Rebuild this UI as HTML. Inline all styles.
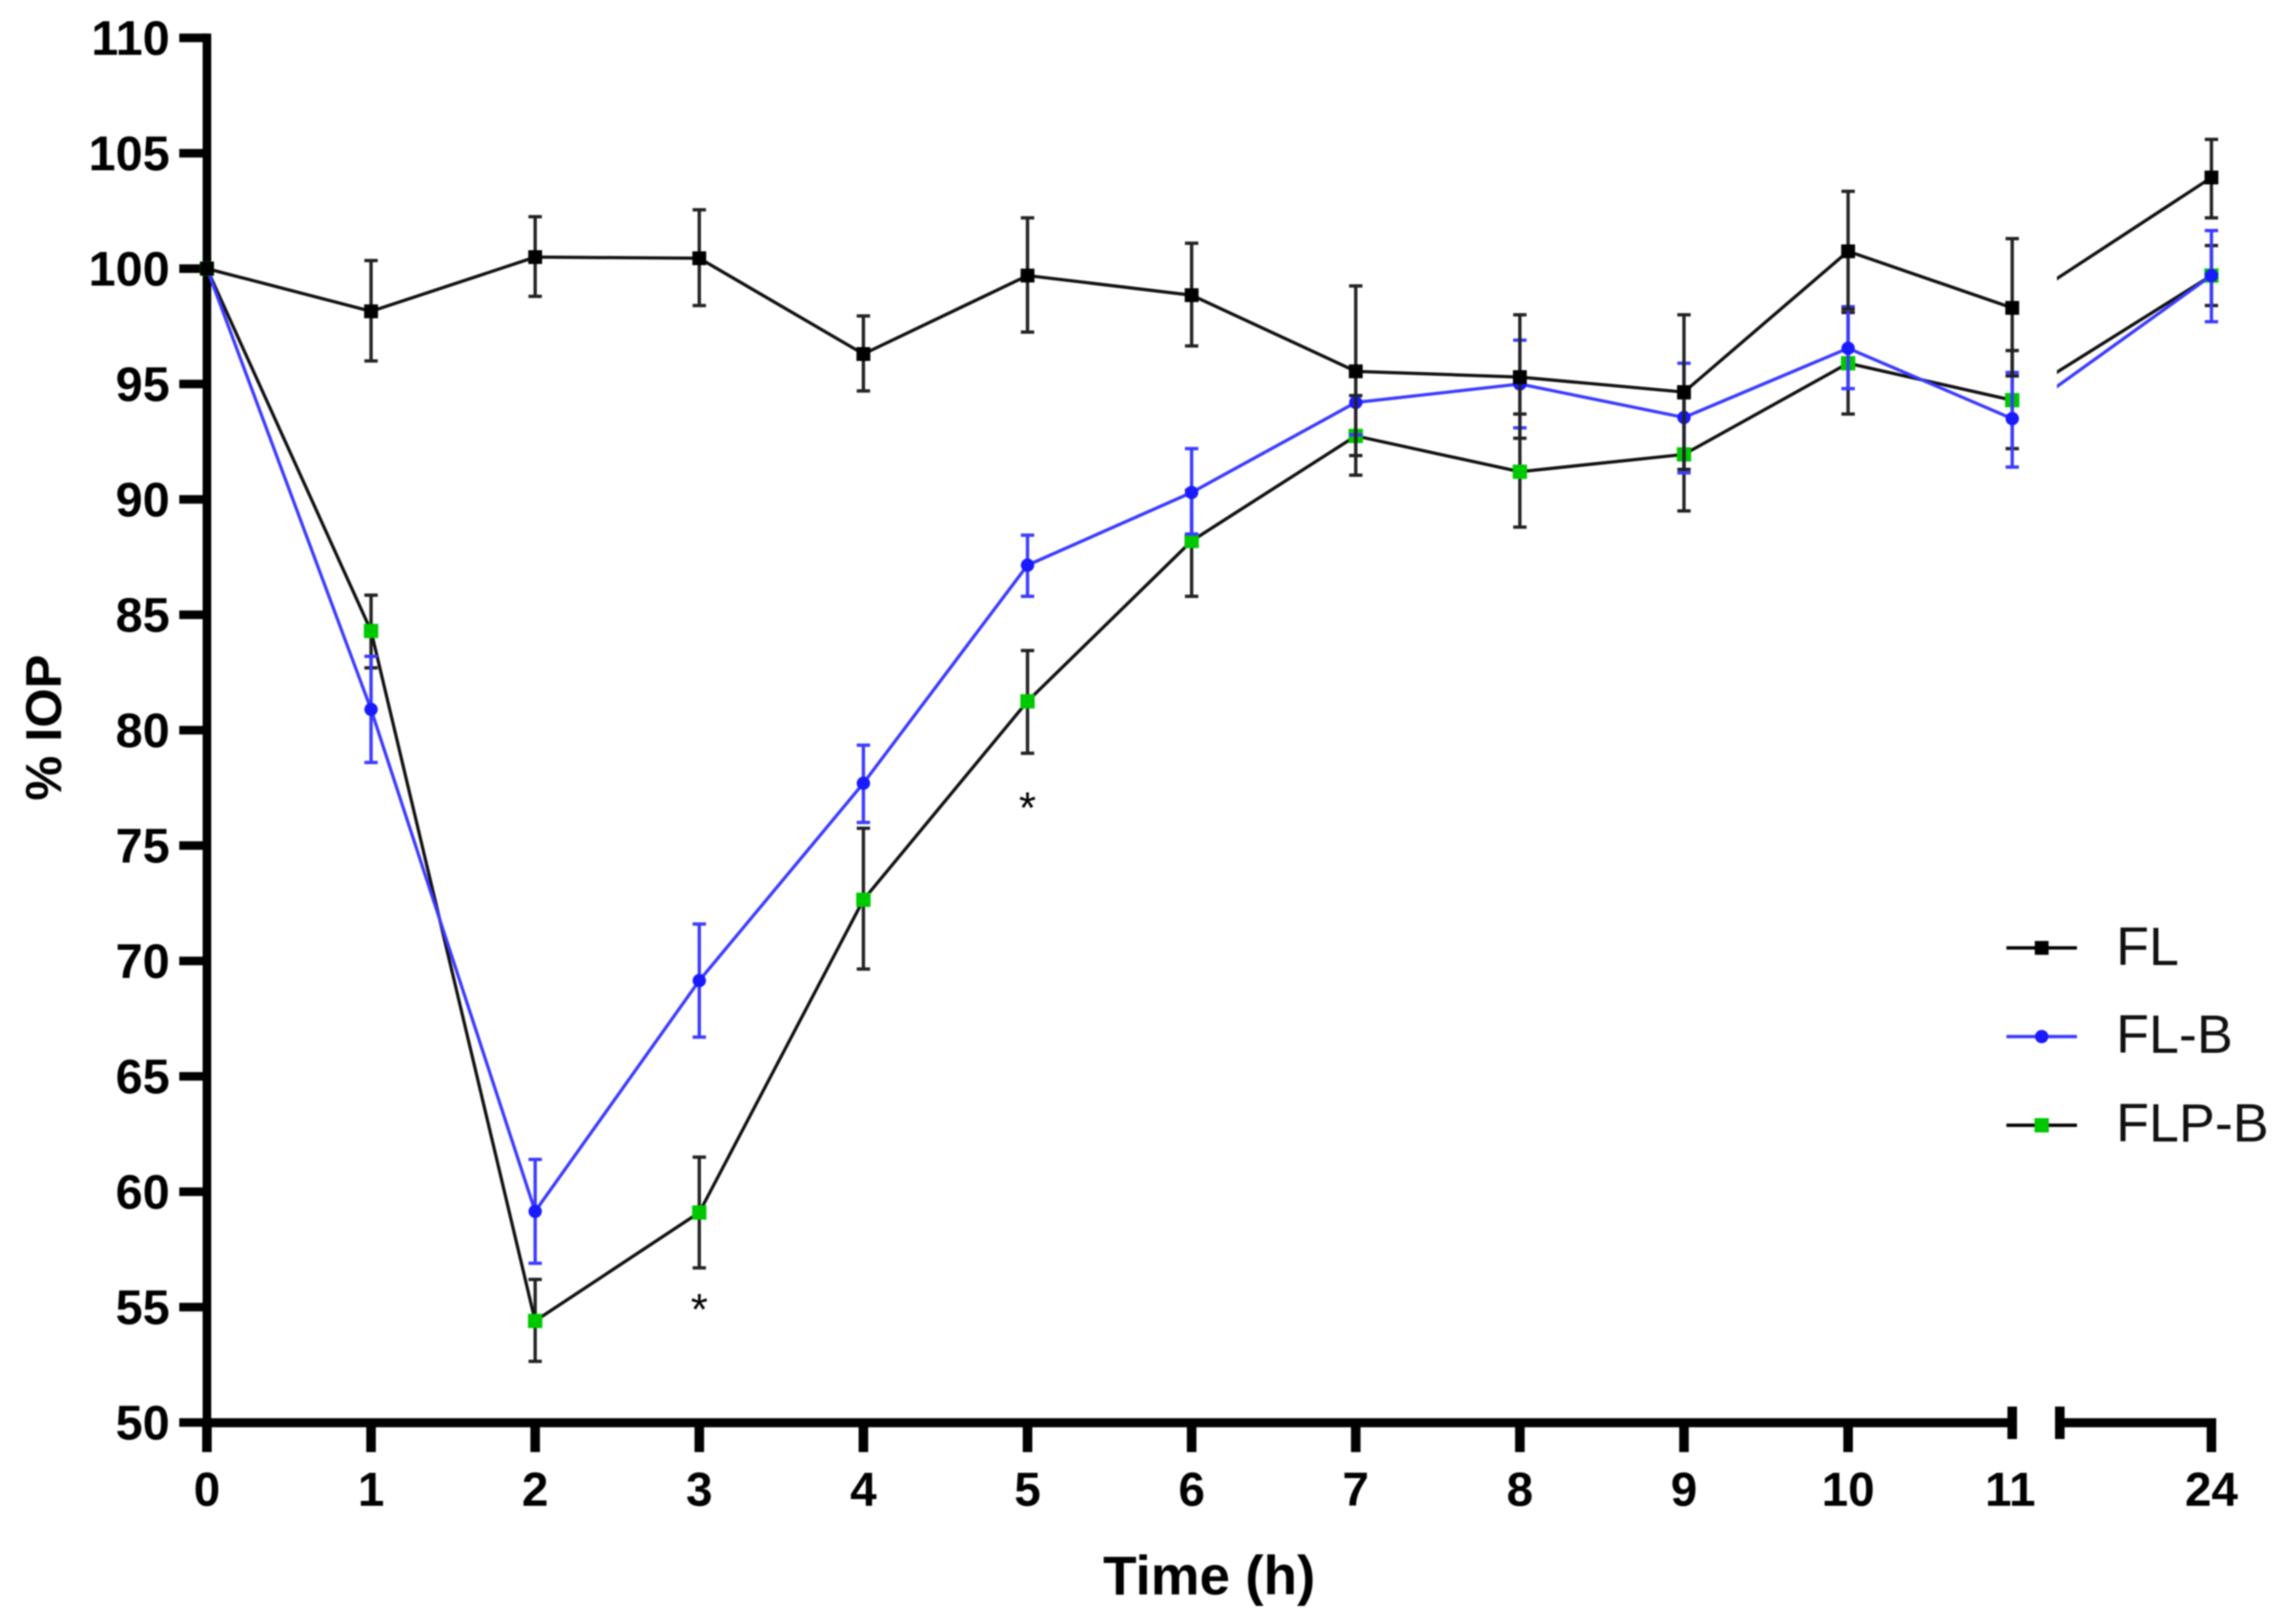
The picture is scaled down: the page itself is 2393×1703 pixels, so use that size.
<!DOCTYPE html>
<html lang="en">
<head>
<meta charset="utf-8">
<title>% IOP over time</title>
<style>
  html, body { margin: 0; padding: 0; background: #fff; }
  #chart { display: block; filter: blur(0.8px); font-family: "Liberation Sans", sans-serif; }
</style>
</head>
<body>
<svg id="chart" xmlns="http://www.w3.org/2000/svg" width="2393" height="1703" viewBox="0 0 2393 1703">
  <defs>
    <clipPath id="axis-break-clip">
      <rect x="0" y="0" width="2108" height="1703"></rect>
      <rect x="2157" y="0" width="236" height="1703"></rect>
    </clipPath>
  </defs>
  <rect x="0" y="0" width="2393" height="1703" fill="#ffffff"></rect>
  <g id="axes"></g>
  <g id="series"></g>
  <g id="legend"></g>
  <text x="1268" y="1672" text-anchor="middle" font-size="57.5" font-weight="700" fill="#000">Time (h)</text>
  <text transform="translate(64 763) rotate(-90)" text-anchor="middle" font-size="53" font-weight="700" fill="#000">% IOP</text>
</svg>
<script>
const times = [0, 1, 2, 3, 4, 5, 6, 7, 8, 9, 10, 11, 24];
const xTickLabels = ['0', '1', '2', '3', '4', '5', '6', '7', '8', '9', '10', '11', '24'];
const yTicks = [50, 55, 60, 65, 70, 75, 80, 85, 90, 95, 100, 105, 110];

const flValues = [100, 98.15, 100.5, 100.45, 96.3, 99.7, 98.85, 95.55, 95.3, 94.65, 100.75, 98.3, 103.95];
const flUpper = [100, 100.35, 102.25, 102.55, 97.95, 102.2, 101.1, 99.25, 98, 98, 103.35, 101.3, 105.6];
const flLower = [100, 96, 98.8, 98.4, 94.7, 97.25, 96.65, 91.9, 92.65, 91.3, 98.25, 95.35, 102.2];

const flbValues = [100, 80.9, 59.15, 69.15, 77.7, 87.15, 90.3, 94.2, 95, 93.55, 96.55, 93.5, 99.7];
const flbUpper = [100, 83.2, 61.4, 71.6, 79.35, 88.45, 92.2, 95.6, 96.9, 95.9, 98.35, 95.5, 101.65];
const flbLower = [100, 78.6, 56.9, 66.7, 76, 85.8, 88.5, 92.8, 93.1, 91.15, 94.8, 91.4, 97.7];

const flpbValues = [100, 84.3, 54.4, 59.1, 72.65, 81.25, 88.2, 92.75, 91.2, 91.95, 95.9, 94.3, 99.7];
const flpbUpper = [100, 85.85, 56.2, 61.5, 75.75, 83.45, 90.4, 94.5, 93.7, 94.4, 98.1, 96.45, 101];
const flpbLower = [100, 82.7, 52.65, 56.7, 69.65, 79, 85.8, 91.05, 88.8, 89.5, 93.7, 92.2, 98.4];

const significantTimes = [3, 5];
const significantLevels = [55.35, 77.1];
const legendLabels = ['FL', 'FL-B', 'FLP-B'];

const SVG_NS = 'http://www.w3.org/2000/svg';
const X0 = 217, X_STEP = 172.1, X_24 = 2319;
const Y50 = 1491.7, Y_UNIT = 24.2;

function xPos(t) { return t <= 11 ? X0 + t * X_STEP : X_24; }
function yPos(v) { return Y50 - (v - 50) * Y_UNIT; }

function mk(tag, attrs, parent, text) {
  const el = document.createElementNS(SVG_NS, tag);
  for (const k in attrs) el.setAttribute(k, attrs[k]);
  if (text !== undefined) el.textContent = text;
  parent.appendChild(el);
  return el;
}

const axes = document.getElementById('axes');
const seriesLayer = document.getElementById('series');
const legend = document.getElementById('legend');

function drawAxes() {
  const yLine = mk('rect', { x: X0 - 4.5, y: yPos(110) - 4.5, width: 9, height: Y50 - yPos(110) + 4.5, fill: '#000' }, axes);
  
  

  const xLineA = mk('rect', { x: X0 - 4.5, y: Y50 - 4.5, width: xPos(11) - X0 + 4.5, height: 9.5, fill: '#000' }, axes);
  
  

  const xLineB = mk('rect', { x: 2160, y: Y50 - 4.5, width: X_24 + 5 - 2160, height: 9.5, fill: '#000' }, axes);
  
  

  const capL = mk('rect', { x: xPos(11) - 5, y: 1475, width: 10, height: 34, fill: '#000' }, axes);
  
  

  const capR = mk('rect', { x: 2155, y: 1475, width: 10, height: 34, fill: '#000' }, axes);
  
  

  yTicks.forEach(function (v) {
    const tick = mk('rect', { x: 188, y: yPos(v) - 4.5, width: X0 - 188, height: 9, fill: '#000' }, axes);
    
    

    const label = mk('text', { x: 178, y: yPos(v) + 18, 'text-anchor': 'end', 'font-size': 51, 'font-weight': 700, fill: '#000' }, axes, String(v));
    
    
  });

  times.forEach(function (t, i) {
    if (t !== 11) {
      const tick = mk('rect', { x: xPos(t) - 5, y: Y50, width: 10, height: 31, fill: '#000' }, axes);
      
      
    }
    const label = mk('text', { x: t === 11 ? xPos(t) - 2 : xPos(t), y: 1579, 'text-anchor': 'middle', 'font-size': 50, 'font-weight': 700, fill: '#000' }, axes, xTickLabels[i]);
    
    
  });
}

function drawMarker(parent, shape, cx, cy, color, size) {
  if (shape === 'circle') {
    return mk('circle', { cx: cx, cy: cy, r: size / 2, fill: color }, parent);
  }
  return mk('rect', { x: cx - size / 2, y: cy - size / 2, width: size, height: size, fill: color }, parent);
}

function drawSeries(key, values, upper, lower, lineColor, barColor, markerColor, shape, size) {
  const group = mk('g', {}, seriesLayer);
  
  

  times.forEach(function (t, i) {
    if (upper[i] === lower[i]) return;
    const x = xPos(t), yTop = yPos(upper[i]), yBot = yPos(lower[i]);
    const stem = mk('line', { x1: x, x2: x, y1: yTop, y2: yBot, stroke: barColor, 'stroke-width': 3.5 }, group);
    
    

    const capTop = mk('line', { x1: x - 7, x2: x + 7, y1: yTop, y2: yTop, stroke: barColor, 'stroke-width': 3.5 }, group);
    
    

    const capBot = mk('line', { x1: x - 7, x2: x + 7, y1: yBot, y2: yBot, stroke: barColor, 'stroke-width': 3.5 }, group);
    
    
  });

  const pts = times.map(function (t, i) { return xPos(t) + ',' + yPos(values[i]); }).join(' ');
  const line = mk('polyline', { points: pts, fill: 'none', stroke: lineColor, 'stroke-width': 3.4, 'stroke-linejoin': 'miter', 'clip-path': 'url(#axis-break-clip)' }, group);
  
  

  times.forEach(function (t, i) {
    const m = drawMarker(group, shape, xPos(t), yPos(values[i]), markerColor, size);
    
    
  });
}

function drawSignificance() {
  significantTimes.forEach(function (t, i) {
    const star = mk('text', { x: xPos(t), y: yPos(significantLevels[i]) + 27, 'text-anchor': 'middle', 'font-size': 46, fill: '#000' }, seriesLayer, '*');
    
    
  });
}

function drawLegend() {
  const rows = [
    { y: 994, base: 1012, line: '#000', marker: '#000', shape: 'square', size: 14.5 },
    { y: 1087, base: 1104, line: '#3b3bff', marker: '#1a1aff', shape: 'circle', size: 14 },
    { y: 1180, base: 1197, line: '#000', marker: '#00c800', shape: 'square', size: 15 }
  ];
  rows.forEach(function (row, i) {
    const key = legendLabels[i].toLowerCase();
    const ln = mk('line', { x1: 2104, x2: 2178, y1: row.y, y2: row.y, stroke: row.line, 'stroke-width': 3.4 }, legend);
    
    

    const m = drawMarker(legend, row.shape, 2141, row.y, row.marker, row.size);
    
    

    const label = mk('text', { x: 2219, y: row.base, 'font-size': 56.5, fill: '#111' }, legend, legendLabels[i]);
    
    
  });
}

drawAxes();
drawSeries('flp-b', flpbValues, flpbUpper, flpbLower, '#111', '#222', '#00c800', 'square', 15);
drawSeries('fl-b', flbValues, flbUpper, flbLower, '#3b3bff', '#3b3bff', '#1a1aff', 'circle', 14);
drawSeries('fl', flValues, flUpper, flLower, '#111', '#222', '#000', 'square', 14.5);
drawSignificance();
drawLegend();
</script>
</body>
</html>
